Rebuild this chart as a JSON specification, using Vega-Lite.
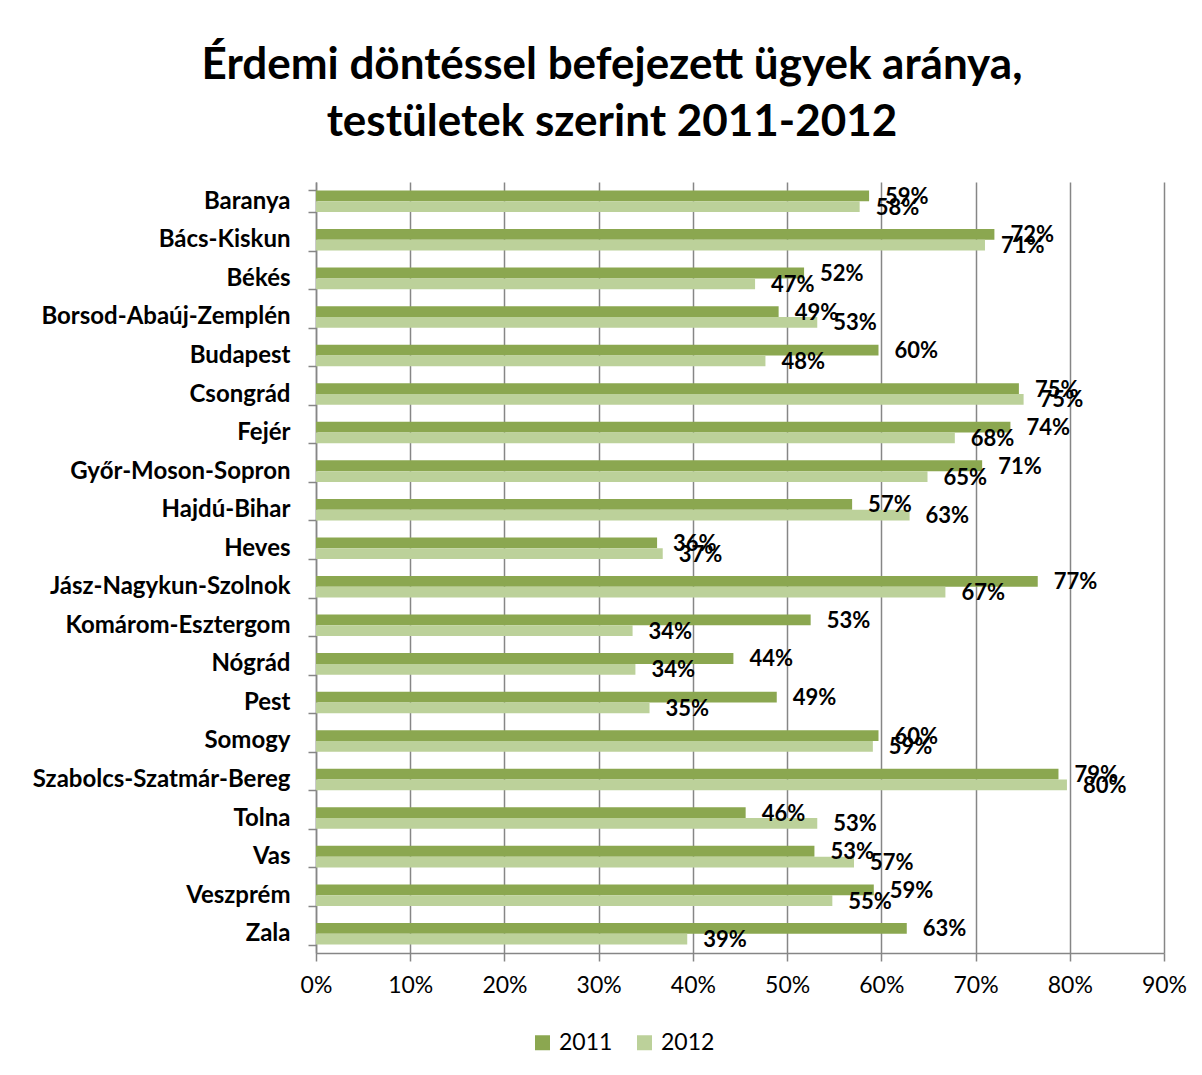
{
  "$schema": "https://vega.github.io/schema/vega-lite/v6.json",
  "autosize": {"type": "none"},
  "padding": {"left": 316, "top": 182, "right": 38, "bottom": 122},
  "width": 848,
  "height": 771,
  "background": "white",
  "title": {
    "text": ["Érdemi döntéssel befejezett ügyek aránya,", "testületek szerint 2011-2012"],
    "font": "Lato",
    "fontSize": 44,
    "fontWeight": "bold",
    "color": "black",
    "anchor": "middle",
    "dx": -128,
    "offset": 25,
    "lineHeight": 57
  },
  "data": {
    "values": [
      {"t": "Baranya", "ev": "2011", "v": 0.587},
      {"t": "Baranya", "ev": "2012", "v": 0.577},
      {"t": "Bács-Kiskun", "ev": "2011", "v": 0.720},
      {"t": "Bács-Kiskun", "ev": "2012", "v": 0.710},
      {"t": "Békés", "ev": "2011", "v": 0.518},
      {"t": "Békés", "ev": "2012", "v": 0.466},
      {"t": "Borsod-Abaúj-Zemplén", "ev": "2011", "v": 0.491},
      {"t": "Borsod-Abaúj-Zemplén", "ev": "2012", "v": 0.532},
      {"t": "Budapest", "ev": "2011", "v": 0.597},
      {"t": "Budapest", "ev": "2012", "v": 0.477},
      {"t": "Csongrád", "ev": "2011", "v": 0.746},
      {"t": "Csongrád", "ev": "2012", "v": 0.751},
      {"t": "Fejér", "ev": "2011", "v": 0.737},
      {"t": "Fejér", "ev": "2012", "v": 0.678},
      {"t": "Győr-Moson-Sopron", "ev": "2011", "v": 0.707},
      {"t": "Győr-Moson-Sopron", "ev": "2012", "v": 0.649},
      {"t": "Hajdú-Bihar", "ev": "2011", "v": 0.569},
      {"t": "Hajdú-Bihar", "ev": "2012", "v": 0.630},
      {"t": "Heves", "ev": "2011", "v": 0.362},
      {"t": "Heves", "ev": "2012", "v": 0.368},
      {"t": "Jász-Nagykun-Szolnok", "ev": "2011", "v": 0.766},
      {"t": "Jász-Nagykun-Szolnok", "ev": "2012", "v": 0.668},
      {"t": "Komárom-Esztergom", "ev": "2011", "v": 0.525},
      {"t": "Komárom-Esztergom", "ev": "2012", "v": 0.336},
      {"t": "Nógrád", "ev": "2011", "v": 0.443},
      {"t": "Nógrád", "ev": "2012", "v": 0.339},
      {"t": "Pest", "ev": "2011", "v": 0.489},
      {"t": "Pest", "ev": "2012", "v": 0.354},
      {"t": "Somogy", "ev": "2011", "v": 0.597},
      {"t": "Somogy", "ev": "2012", "v": 0.591},
      {"t": "Szabolcs-Szatmár-Bereg", "ev": "2011", "v": 0.788},
      {"t": "Szabolcs-Szatmár-Bereg", "ev": "2012", "v": 0.797},
      {"t": "Tolna", "ev": "2011", "v": 0.456},
      {"t": "Tolna", "ev": "2012", "v": 0.532},
      {"t": "Vas", "ev": "2011", "v": 0.529},
      {"t": "Vas", "ev": "2012", "v": 0.571},
      {"t": "Veszprém", "ev": "2011", "v": 0.592},
      {"t": "Veszprém", "ev": "2012", "v": 0.548},
      {"t": "Zala", "ev": "2011", "v": 0.627},
      {"t": "Zala", "ev": "2012", "v": 0.394}
    ]
  },
  "encoding": {
    "y": {
      "field": "t",
      "type": "nominal",
      "sort": null,
      "title": null,
      "scale": {"paddingInner": 0.44, "paddingOuter": 0.22},
      "axis": {
        "labelFont": "Lato",
        "labelFontSize": 24,
        "labelFontWeight": "bold",
        "labelColor": "black",
        "labelPadding": 18,
        "labelLimit": 0,
        "tickBand": "extent",
        "tickSize": 8,
        "tickColor": "#868686",
        "domainColor": "#868686",
        "domainWidth": 1.5,
        "tickWidth": 1.5,
        "grid": false
      }
    },
    "x": {
      "field": "v",
      "type": "quantitative",
      "title": null,
      "scale": {"domain": [0, 0.9], "nice": false},
      "axis": {
        "format": ".0%",
        "values": [0, 0.1, 0.2, 0.3, 0.4, 0.5, 0.6, 0.7, 0.8, 0.9],
        "labelFont": "Lato",
        "labelFontSize": 23,
        "labelColor": "black",
        "labelPadding": 13,
        "tickSize": 8,
        "tickColor": "#868686",
        "tickWidth": 1.5,
        "domainColor": "#868686",
        "domainWidth": 1.5,
        "grid": true,
        "gridColor": "#868686",
        "gridWidth": 1.5,
        "labelFlush": false
      }
    },
    "yOffset": {
      "field": "ev",
      "type": "nominal",
      "scale": {"paddingInner": 0, "paddingOuter": 0}
    }
  },
  "layer": [
    {
      "mark": {"type": "bar"},
      "encoding": {
        "color": {
          "field": "ev",
          "type": "nominal",
          "title": null,
          "scale": {"domain": ["2011", "2012"], "range": ["#8BA750", "#BCD19A"]},
          "legend": {
            "orient": "none",
            "legendX": 215,
            "legendY": 849,
            "direction": "horizontal",
            "symbolType": "square",
            "symbolSize": 225,
            "symbolStrokeWidth": 0,
            "labelFont": "Lato",
            "labelFontSize": 23,
            "labelColor": "black",
            "labelOffset": 5,
            "columnPadding": 20
          }
        }
      }
    },
    {
      "mark": {
        "type": "text",
        "align": "left",
        "baseline": "middle",
        "dx": 16,
        "dy": 1,
        "font": "Lato",
        "fontSize": 22,
        "fontWeight": "bold",
        "color": "black"
      },
      "encoding": {
        "text": {"field": "v", "type": "quantitative", "format": ".0%"}
      }
    }
  ],
  "config": {
    "view": {"stroke": null}
  }
}
